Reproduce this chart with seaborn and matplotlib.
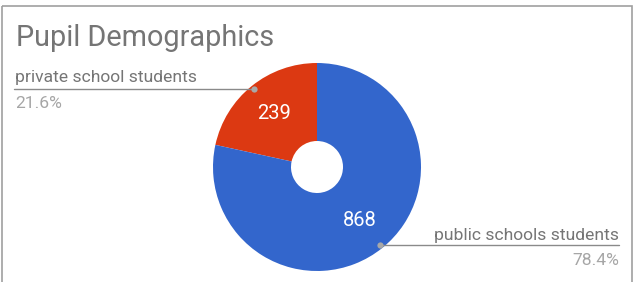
import numpy as np
import seaborn as sns
import matplotlib.pyplot as plt
from matplotlib.patches import Rectangle

# pupil counts
categories = ['private school students', 'public schools students']
counts = [239, 868]
colors = ['#DC3912', '#3366CC']

sns.set_theme(style='white')
plt.rcParams['font.family'] = ['Roboto', 'DejaVu Sans']

W, H = 635, 282
fig = plt.figure(figsize=(W / 100, H / 100), dpi=100)

# overlay axes in pixel units (y down) for title, border and leader lines
ov = fig.add_axes([0, 0, 1, 1])
ov.set_xlim(0, W)
ov.set_ylim(H, 0)
ov.axis('off')
ov.set_zorder(3)

# pie axes: centre (317, 167) px, radius 104 px
cx, cy, R = 317, 167, 104
ax = fig.add_axes([(cx - R) / W, (H - cy - R) / H, 2 * R / W, 2 * R / H])
wedges, texts = ax.pie(counts, colors=colors, startangle=90, counterclock=True,
                       labels=[str(c) for c in counts], labeldistance=0.66,
                       wedgeprops=dict(width=0.75, edgecolor='none'),
                       textprops=dict(color='white', fontsize=14.5))
for t in texts:
    t.set_ha('center')
    t.set_va('center')
ax.set_xlim(-1, 1)
ax.set_ylim(-1, 1)
ax.set_aspect('equal')
ax.axis('off')

ov.add_patch(Rectangle((1.5, 5.5), 630, 300, fill=False, edgecolor='#a0a0a0', lw=1.2))
ov.text(16, 46, 'Pupil Demographics', fontsize=20.8, color='#757575', va='baseline', ha='left')

total = sum(counts)
pct = [c / total * 100 for c in counts]
start = 90
for i, (name, c) in enumerate(zip(categories, counts)):
    span = c / total * 360
    mid = np.deg2rad(start + span / 2)
    start += span
    dx = cx + 0.96 * R * np.cos(mid)
    dy = cy - 0.96 * R * np.sin(mid)
    ov.plot(dx, dy, 'o', color='#a8a8a8', ms=4.5, mec='none', zorder=5)
    if i == 0:
        ov.plot([14, dx], [dy, dy], color='#8a8a8a', lw=1)
        ov.text(15, dy - 7, name, fontsize=12.6, color='#757575', ha='left', va='baseline')
        ov.text(15, dy + 19, f'{pct[i]:.1f}%', fontsize=12.6, color='#a6a6a6', ha='left', va='baseline')
    else:
        ov.plot([dx, 619], [dy, dy], color='#8a8a8a', lw=1)
        ov.text(619, dy - 5, name, fontsize=12.6, color='#757575', ha='right', va='baseline')
        ov.text(619, dy + 20, f'{pct[i]:.1f}%', fontsize=12.6, color='#a6a6a6', ha='right', va='baseline')

plt.savefig('out.png', dpi=100)
